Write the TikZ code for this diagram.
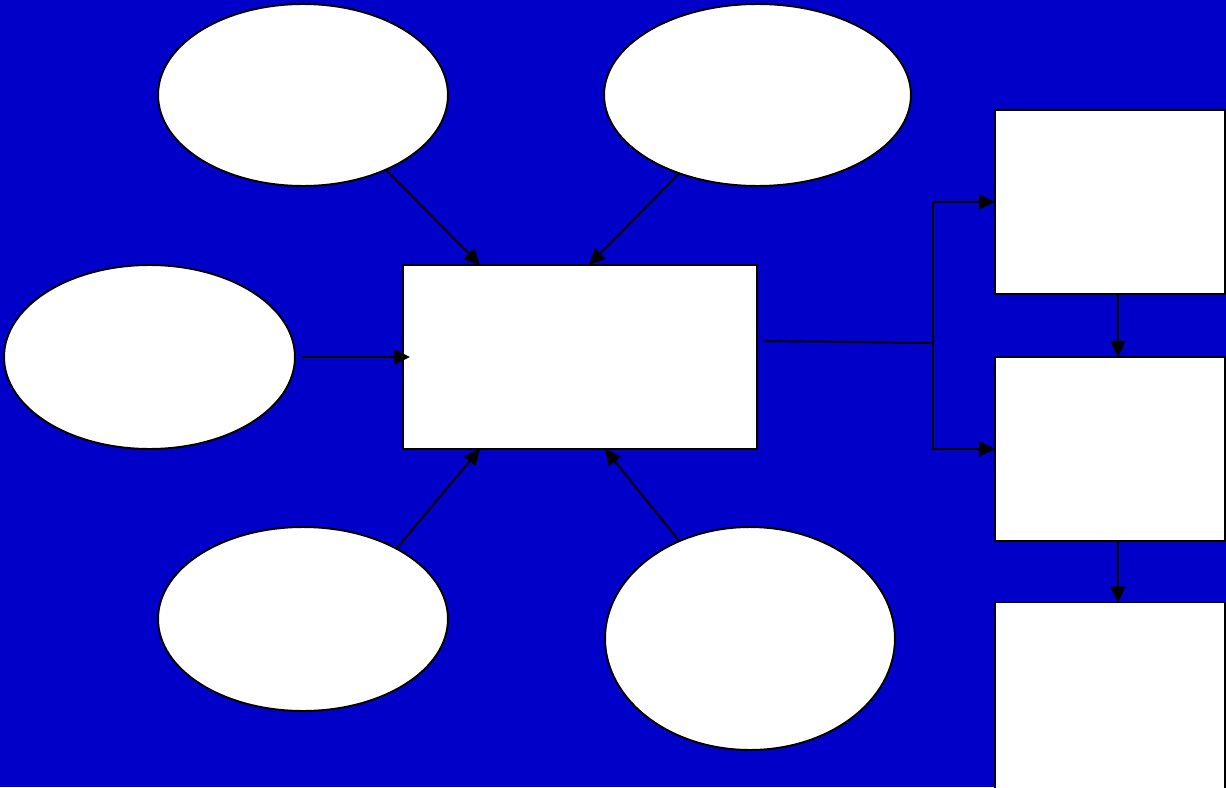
\documentclass[tikz,border=0pt]{standalone}
\usepackage{tikz}
\usetikzlibrary{shapes.geometric,arrows.meta}
\definecolor{slideblue}{RGB}{0,0,200}

\begin{document}
\begin{tikzpicture}[x=0.02cm, y=-0.02cm,
    blob/.style={ellipse, draw=black, fill=white, line width=1.1pt,
                 inner sep=0pt, outer sep=0pt, minimum width=5.8cm, minimum height=3.64cm},
    box/.style={rectangle, draw=black, fill=white, line width=1.1pt,
                inner sep=0pt, outer sep=0pt, minimum width=4.6cm, minimum height=3.68cm},
    feed/.style={line width=1.1pt, -{Triangle[length=0.32cm,width=0.3cm]}}]
  \useasboundingbox (0,0) rectangle (1226,787);
  \fill[slideblue] (0,0) rectangle (1226,787);
  % ellipses round the hub
  \node[blob] (e1) at (303,95) {};
  \node[blob, minimum width=6.14cm] (e2) at (757.5,95) {};
  \node[blob, minimum width=5.82cm, minimum height=3.68cm] (e3) at (149.5,357) {};
  \node[blob, minimum height=3.68cm] (e4) at (303,619) {};
  \node[blob, minimum height=4.46cm] (e5) at (750,638.5) {};
  % hub
  \node[box, minimum width=7.08cm] (hub) at (580,357) {};
  % column on the right
  \node[box] (r1) at (1110,202) {};
  \node[box] (r2) at (1110,449) {};
  \node[box, minimum height=3.9cm] (r3) at (1110,700) {};
  \coordinate (split) at (933,343);

  \draw[feed] (e1.-42) -- ([xshift=1.54cm]hub.north west);
  \draw[feed] (e2.-135) -- ([xshift=3.72cm]hub.north west);
  \draw[feed] ([xshift=0.14cm]e3.east) -- ([xshift=0.14cm]hub.west);
  \draw[feed] (e4.37) -- ([xshift=1.54cm]hub.south west);
  \draw[feed] (e5.126) -- ([xshift=4.04cm]hub.south west);
  \draw[line width=1.1pt] ([xshift=0.14cm,yshift=0.32cm]hub.east) -- (split);
  \draw[feed] (split) |- (r1.west);
  \draw[feed] (split) |- (r2.west);
  \draw[feed] ([xshift=0.16cm]r1.south) -- ([xshift=0.16cm]r2.north);
  \draw[feed] ([xshift=0.16cm]r2.south) -- ([xshift=0.16cm]r2.south |- r3.north);
\end{tikzpicture}
\end{document}
